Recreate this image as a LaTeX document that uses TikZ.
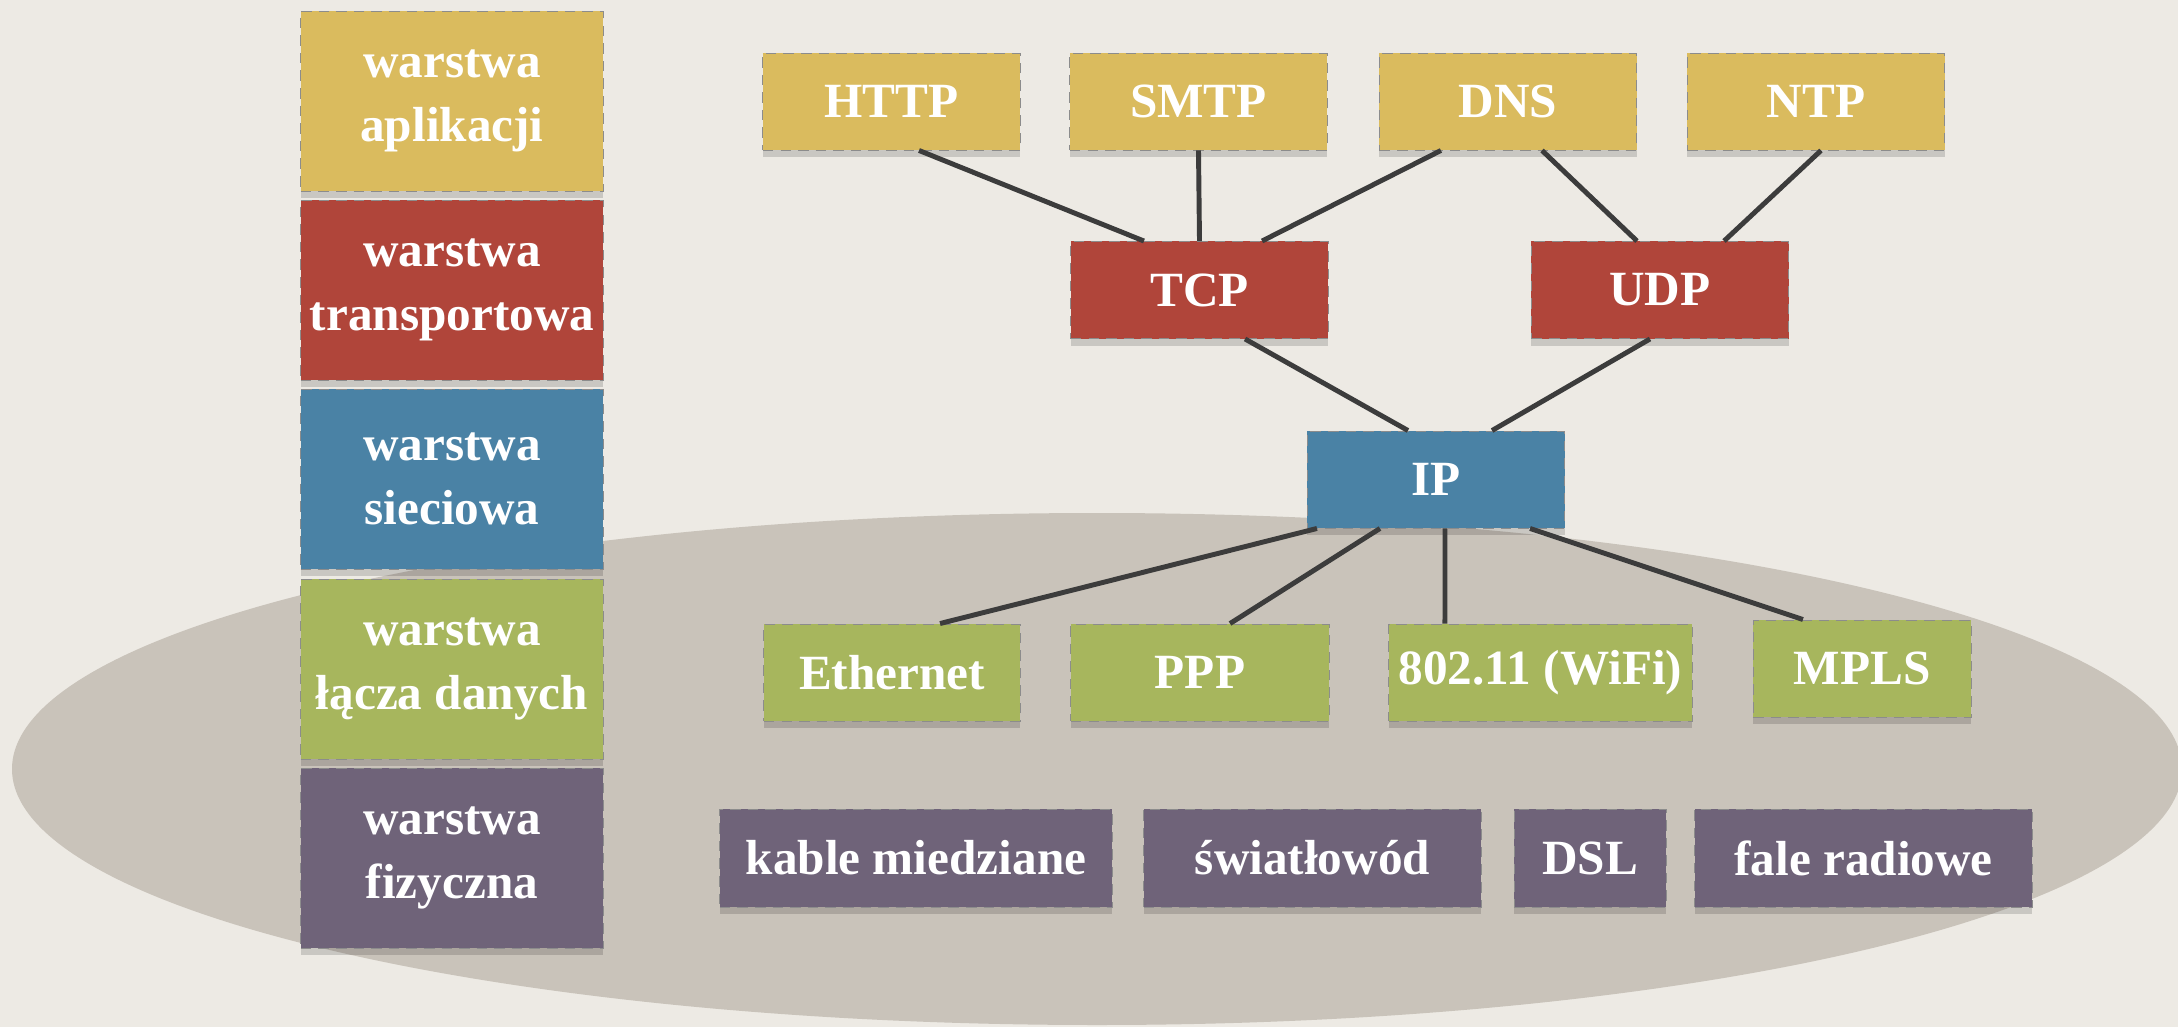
\documentclass[tikz,border=0pt]{standalone}
\usepackage{fontspec}
\setmainfont{Liberation Serif}
\usetikzlibrary{shadows}

\definecolor{paper}{HTML}{EDEAE4}
\definecolor{stone}{HTML}{C9C3BA}
\definecolor{wire}{HTML}{3C3C3C}
\definecolor{appcol}{HTML}{DABB5E}
\definecolor{trancol}{HTML}{B0453A}
\definecolor{netcol}{HTML}{4A82A5}
\definecolor{linkcol}{HTML}{A7B65D}
\definecolor{physcol}{HTML}{6F6379}
\tikzstyle{layerbox}=[rectangle, draw=black!45, densely dashed, line width=0.25pt,
                     text=white, font=\bfseries\fontsize{14}{18}\selectfont,
                     align=center, inner sep=0pt,
                     drop shadow={shadow xshift=0pt, shadow yshift=-2pt,
                                  opacity=0.15, fill=black}]
\tikzstyle{sidebox}=[layerbox, minimum width=3.02cm, minimum height=1.80cm]
\tikzstyle{proto}=[layerbox, minimum width=2.57cm, minimum height=0.97cm]
\tikzstyle{link}=[draw=wire, line width=1.4pt]

\begin{document}
\begin{tikzpicture}[x=0.01cm, y=-0.01cm]
  % Paper and the grey ellipse behind the lower layers
  \fill[paper] (0,0) rectangle (2178,1027);
  \useasboundingbox (0,0) rectangle (2178,1027);
  \fill[stone] (1097,769) ellipse [x radius=1085, y radius=256];
  %
  % Layer names on the left
  \foreach \place/\name/\col/\txt in {{(452,101)/lapp/appcol/warstwa\\aplikacji},
           {(452,290)/ltran/trancol/warstwa\\transportowa},
           {(452,479)/lnet/netcol/warstwa\\sieciowa},
           {(452,669)/llink/linkcol/warstwa\\łącza danych},
           {(452,858)/lphys/physcol/warstwa\\fizyczna}}
    \node[sidebox, fill=\col] (\name) at \place {\txt};
  %
  % Application protocols
  \foreach \place/\name/\txt in {{(891.5,101.5)/http/HTTP}, {(1198.5,101.5)/smtp/SMTP},
           {(1508,101.5)/dns/DNS}, {(1816,101.5)/ntp/NTP}}
    \node[proto, fill=appcol] (\name) at \place {\txt};
  %
  % Transport and network
  \node[proto, fill=trancol] (tcp) at (1199.5,290) {TCP};
  \node[proto, fill=trancol] (udp) at (1660,290) {UDP};
  \node[proto, fill=netcol] (ip) at (1436,479.5) {IP};
  %
  % Link layer
  \node[proto, fill=linkcol, minimum width=2.56cm] (eth) at (892,672.5) {Ethernet};
  \node[proto, fill=linkcol, minimum width=2.58cm] (ppp) at (1200,672.5) {PPP};
  \node[proto, fill=linkcol, minimum width=3.03cm] (wifi) at (1540.5,672.5) {802.11 (WiFi)};
  \node[proto, fill=linkcol, minimum width=2.18cm] (mpls) at (1862,668.5) {MPLS};
  %
  % Physical media
  \foreach \place/\name/\boxw/\txt in {{(916,858)/cu/3.92/kable miedziane},
           {(1312.5,858)/fibre/3.37/światłowód}, {(1590,858)/dsl/1.52/DSL},
           {(1863.5,858)/radio/3.37/fale radiowe}}
    \node[proto, fill=physcol, minimum width=\boxw cm, minimum height=0.98cm]
      (\name) at \place {\txt};
  %
  % Connections
  \foreach \src/\sx/\dst/\dx in {http/0.275/tcp/-0.555, smtp/0/tcp/0,
           dns/-0.67/tcp/0.625, dns/0.34/udp/-0.23, ntp/0.05/udp/0.64,
           tcp/0.455/ip/-0.28, udp/-0.10/ip/0.56}
    \draw[link] ([xshift=\sx cm]\src.south) -- ([xshift=\dx cm]\dst.north);
  \foreach \sx/\dst/\dx in {-1.19/eth/0.48, -0.56/ppp/0.30, 0.09/wifi/-0.955,
           0.94/mpls/-0.59}
    \draw[link] ([xshift=\sx cm]ip.south) -- ([xshift=\dx cm]\dst.north);
\end{tikzpicture}
\end{document}
